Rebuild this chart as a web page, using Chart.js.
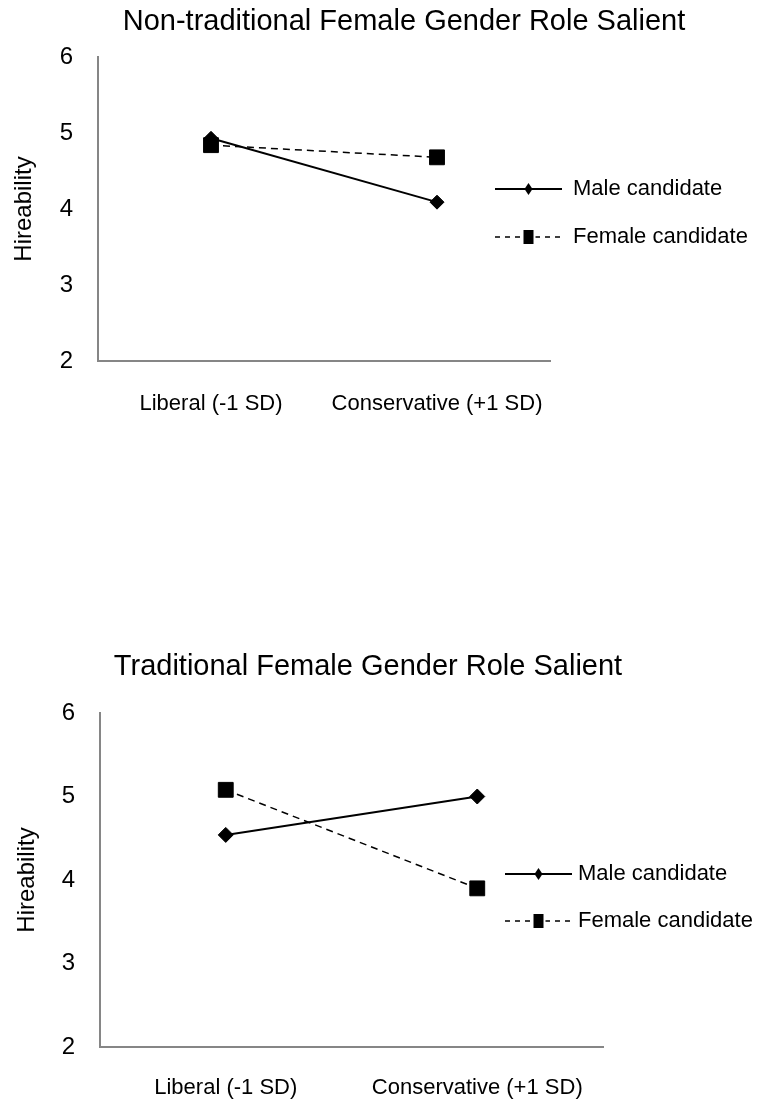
<!DOCTYPE html>
<html>
<head>
<meta charset="utf-8">
<script src="https://cdn.jsdelivr.net/npm/chart.js@4.4.1/dist/chart.umd.min.js"></script>
<style>
  html, body { margin: 0; padding: 0; background: #fff; overflow: hidden; }
  body { width: 759px; height: 1120px; position: relative; }
  .box { position: absolute; left: 0; width: 808px; }
  #box1 { top: 0; height: 440px; }
  #box2 { top: 640px; height: 480px; }
</style>
</head>
<body>
<div class="box" id="box1"><canvas id="chart1"></canvas></div>
<div class="box" id="box2"><canvas id="chart2"></canvas></div>
<script>
const categories = ["Liberal (-1 SD)", "Conservative (+1 SD)"];
const seriesNames = ["Male candidate", "Female candidate"];
const nonTradMale = [4.93, 4.09];
const nonTradFemale = [4.84, 4.68];
const tradMale = [4.54, 5.0];
const tradFemale = [5.08, 3.9];
const yMin = 2;
const yMax = 6;
const yStep = 1;
const yTitle = "Hireability";

const FONT = "'Liberation Sans', Arial, sans-serif";
Chart.defaults.font.family = FONT;
Chart.defaults.color = "#000";

// legend next to the plot: short line, marker in the middle, label
const lineLegend = {
    id: "lineLegend",
    afterDraw(chart, args, opts) {
        const ctx = chart.ctx;
        chart.data.datasets.forEach((ds, i) => {
            const y = opts.y[i];
            const x0 = opts.x;
            const x1 = opts.x + opts.lineWidth;
            const xm = (x0 + x1) / 2;
            ctx.save();
            ctx.strokeStyle = ds.borderColor;
            ctx.lineWidth = ds.borderDash ? 1.5 : 2;
            ctx.setLineDash(ds.borderDash ? [5, 5] : []);
            ctx.beginPath();
            ctx.moveTo(x0, y);
            ctx.lineTo(x1, y);
            ctx.stroke();
            ctx.setLineDash([]);
            ctx.fillStyle = ds.pointBackgroundColor;
            if (ds.pointStyle === "rectRot") {
                ctx.beginPath();
                ctx.moveTo(xm, y - 6);
                ctx.lineTo(xm + 4, y);
                ctx.lineTo(xm, y + 6);
                ctx.lineTo(xm - 4, y);
                ctx.closePath();
                ctx.fill();
            } else {
                ctx.fillStyle = "#fff";
                ctx.fillRect(xm - 7, y - 8, 14, 16);
                ctx.fillStyle = ds.pointBackgroundColor;
                ctx.fillRect(xm - 5, y - 7, 10, 14);
            }
            ctx.font = "22px " + FONT;
            ctx.fillStyle = "#000";
            ctx.textBaseline = "middle";
            ctx.fillText(ds.label, opts.textX, y);
            ctx.restore();
        });
    },
};

const makeChart = (id, title, male, female, o) => {
    return new Chart(document.getElementById(id), {
        type: "line",
        data: {
            labels: categories,
            datasets: [
                {
                    label: seriesNames[0],
                    data: male,
                    order: 1,
                    yAxisID: "y",
                    borderColor: "#000",
                    borderWidth: 2,
                    pointStyle: "rectRot",
                    pointRadius: o.diamond,
                    pointBackgroundColor: "#000",
                    pointBorderColor: "#000",
                    pointBorderWidth: 1,
                },
                {
                    label: seriesNames[1],
                    data: female,
                    order: 0,
                    yAxisID: "y",
                    borderColor: "#000",
                    borderWidth: 1.5,
                    borderDash: [7, 5],
                    pointStyle: "rect",
                    pointRadius: o.square,
                    pointBackgroundColor: "#000",
                    pointBorderColor: "#000",
                    pointBorderWidth: 1,
                },
            ],
        },
        options: {
            responsive: true,
            maintainAspectRatio: false,
            animation: false,
            layout: { padding: { left: 0, right: o.padRight, top: 0, bottom: 0 } },
            plugins: {
                legend: { display: false },
                tooltip: { enabled: false },
                title: {
                    display: true,
                    text: title,
                    color: "#000",
                    font: { size: 29, weight: "normal" },
                    padding: { top: o.titleTop, bottom: o.titleBottom },
                },
                lineLegend: o.legend,
            },
            scales: {
                x: {
                    offset: true,
                    grid: { display: false, drawTicks: false },
                    border: { color: "#868686", width: 2 },
                    ticks: { font: { size: 22 }, padding: o.xPad, color: "#000", maxRotation: 0 },
                    afterFit: (s) => { s.height = o.xHeight; },
                },
                y: {
                    min: yMin,
                    max: yMax,
                    ticks: { stepSize: yStep, font: { size: 24 }, padding: 25, color: "#000" },
                    grid: { display: false, drawTicks: false },
                    border: { color: "#868686", width: 2 },
                    title: {
                        display: true,
                        text: yTitle,
                        color: "#000",
                        font: { size: 24 },
                        padding: { top: o.yTitlePad, bottom: 0 },
                    },
                    afterFit: (s) => { s.width = o.yWidth; },
                },
                // empty axis that only keeps room for the legend
                side: {
                    type: "linear",
                    position: "right",
                    ticks: { display: false },
                    grid: { display: false, drawTicks: false },
                    border: { display: false },
                    afterFit: (s) => { s.width = o.sideWidth; },
                },
            },
        },
        plugins: [lineLegend],
    });
};

makeChart("chart1", "Non-traditional Female Gender Role Salient", nonTradMale, nonTradFemale, {
    diamond: 7, square: 10.5,
    padRight: 0, sideWidth: 258, yWidth: 98,
    titleTop: 4.6, titleBottom: 17.6,
    xHeight: 79, xPad: 30, yTitlePad: 9.6,
    legend: { x: 495, y: [189, 237], lineWidth: 67, textX: 573 },
});

makeChart("chart2", "Traditional Female Gender Role Salient", tradMale, tradFemale, {
    diamond: 7.5, square: 10.5,
    padRight: 72, sideWidth: 133, yWidth: 100,
    titleTop: 9.6, titleBottom: 28.6,
    xHeight: 73, xPad: 28, yTitlePad: 12.6,
    legend: { x: 505, y: [234, 281], lineWidth: 67, textX: 578 },
});
</script>
</body>
</html>
